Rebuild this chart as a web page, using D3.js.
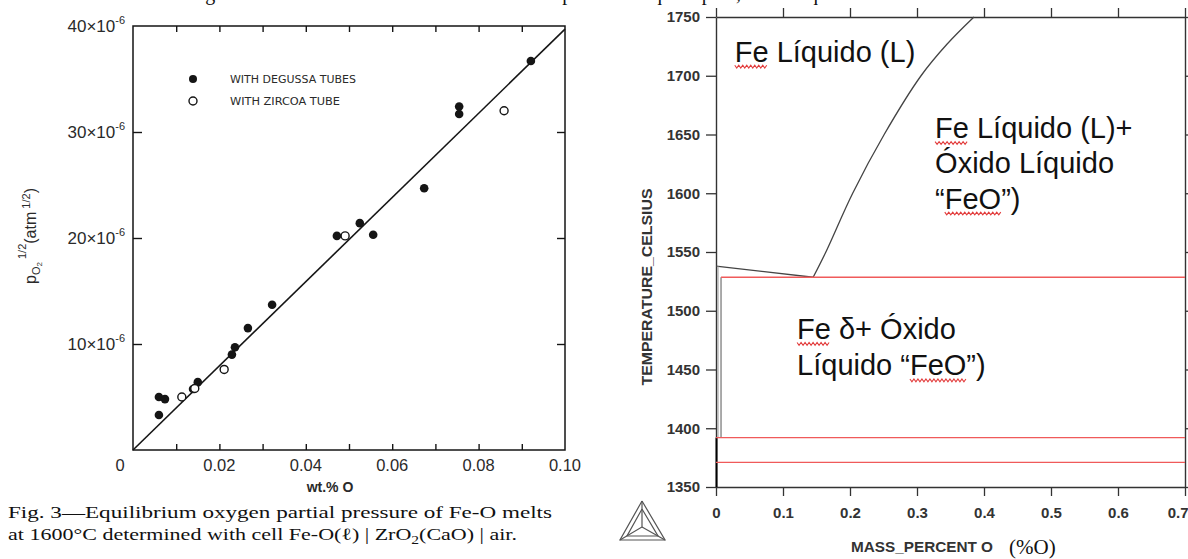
<!DOCTYPE html>
<html>
<head>
<meta charset="utf-8">
<script src="https://cdn.jsdelivr.net/npm/d3@7"></script>
<style>
  body { margin: 0; background: #fff; }
  svg { display: block; }
</style>
</head>
<body>
<script>
// left figure: pO2^1/2 (x1e-6 atm^1/2) vs wt.% O at 1600C
var degussaX = [0.0060, 0.0060, 0.0074, 0.0139, 0.0150, 0.0229, 0.0236, 0.0266, 0.0322, 0.0472, 0.0525, 0.0556, 0.0674, 0.0755, 0.0755, 0.0921];
var degussaY = [3.3, 5.0, 4.8, 5.75, 6.4, 9.0, 9.7, 11.5, 13.7, 20.2, 21.4, 20.3, 24.7, 32.4, 31.7, 36.7];
var zircoaX = [0.0113, 0.0143, 0.0211, 0.0491, 0.0859];
var zircoaY = [5.0, 5.8, 7.6, 20.2, 32.0];
var fitX = [0, 0.10];
var fitY = [0, 39.7];
var wtTicks = [0, 0.02, 0.04, 0.06, 0.08, 0.10];
var wtMinor = [0.01, 0.02, 0.03, 0.04, 0.05, 0.06, 0.07, 0.08, 0.09];
var poTicks = [10, 20, 30, 40];

// right figure: Fe-O phase diagram (Thermo-Calc)
var tempTicks = [1350, 1400, 1450, 1500, 1550, 1600, 1650, 1700, 1750];
var massTicks = [0, 0.1, 0.2, 0.3, 0.4, 0.5, 0.6, 0.7];
var liquidusX = [0.145, 0.164, 0.204, 0.251, 0.306, 0.345, 0.385];
var liquidusT = [1528.5, 1550, 1600, 1650, 1700, 1727, 1750];
var monotecticX = [0, 0.145];
var monotecticT = [1538, 1528.5];
var isotherms = [1528.5, 1392, 1371];
var phaseLabels = [
  { text: 'Fe Líquido (L)', x: 0.028, t: 1712, marks: [[0, 2]] },
  { text: 'Fe Líquido (L)+', x: 0.327, t: 1647, marks: [[0, 2]] },
  { text: 'Óxido Líquido', x: 0.327, t: 1617, marks: [] },
  { text: '“FeO”)', x: 0.327, t: 1587, marks: [[1, 3]] },
  { text: 'Fe δ+ Óxido', x: 0.121, t: 1476, marks: [[0, 2]] },
  { text: 'Líquido “FeO”)', x: 0.121, t: 1445, marks: [[9, 3]] }
];

var W = 1188, H = 559;
var svg = d3.select('body').append('svg').attr('width', W).attr('height', H);
svg.append('rect').attr('width', W).attr('height', H).attr('fill', '#fff');

// sentence above the figures, cut off by the page edge
svg.append('text')
  .attr('x', 25).attr('y', 0)
  .attr('font-family', 'Liberation Serif, serif').attr('font-size', 20)
  .attr('textLength', 815).attr('lengthAdjust', 'spacing')
  .attr('fill', '#111')
  .text('com base nos dados da figura ao lado estendida até 1600°C e determinar a partir dela o que se pede, sabendo que:');

/* ---------------- left: scanned Fig. 3 ---------------- */
var ink = '#151515';
var grey = '#2a2a2a';
var xL = d3.scaleLinear().domain([0, 0.10]).range([133, 565]);
var yL = d3.scaleLinear().domain([0, 40]).range([450, 26]);
var gL = svg.append('g');

gL.append('rect')
  .attr('x', xL(0)).attr('y', yL(40))
  .attr('width', xL(0.10) - xL(0)).attr('height', yL(0) - yL(40))
  .attr('fill', 'none').attr('stroke', ink).attr('stroke-width', 1.5);

// inward ticks on all four sides
gL.append('g').attr('transform', 'translate(0,' + yL(0) + ')')
  .call(d3.axisBottom(xL).tickValues(wtMinor).tickSize(-6).tickFormat(''));
gL.append('g').attr('transform', 'translate(0,' + yL(40) + ')')
  .call(d3.axisTop(xL).tickValues(wtMinor).tickSize(-6).tickFormat(''));
gL.append('g').attr('transform', 'translate(' + xL(0) + ',0)')
  .call(d3.axisLeft(yL).tickValues([10, 20, 30]).tickSize(-9).tickFormat(''));
gL.append('g').attr('transform', 'translate(' + xL(0.10) + ',0)')
  .call(d3.axisRight(yL).tickValues([10, 20, 30]).tickSize(-8).tickFormat(''));
gL.selectAll('.domain').remove();
gL.selectAll('.tick line').attr('stroke', ink).attr('stroke-width', 1.4);

gL.selectAll('text.xl').data(wtTicks).join('text')
  .attr('class', 'xl')
  .attr('x', function(d) { return d === 0 ? xL(d) - 13 : xL(d); })
  .attr('y', 471)
  .attr('text-anchor', 'middle')
  .attr('font-family', 'Liberation Sans, Arial, sans-serif').attr('font-size', 16.5)
  .attr('fill', grey)
  .text(function(d) { return d === 0 ? '0' : d.toFixed(2); });

var yl = gL.selectAll('text.yl').data(poTicks).join('text')
  .attr('class', 'yl')
  .attr('x', 125).attr('y', function(d) { return yL(d) + 6; })
  .attr('text-anchor', 'end')
  .attr('font-family', 'Liberation Sans, Arial, sans-serif').attr('font-size', 17)
  .attr('fill', grey);
yl.append('tspan').text(function(d) { return d + '×10'; });
yl.append('tspan').attr('dy', -8).attr('font-size', 11).text('-6');

gL.append('text')
  .attr('x', 330).attr('y', 492)
  .attr('text-anchor', 'middle')
  .attr('font-family', 'Liberation Sans, Arial, sans-serif').attr('font-size', 14)
  .attr('font-weight', 'bold')
  .attr('fill', grey)
  .text('wt.% O');

var ylab = gL.append('text')
  .attr('transform', 'translate(36,236) rotate(-90)')
  .attr('text-anchor', 'middle')
  .attr('font-family', 'Liberation Sans, Arial, sans-serif').attr('font-size', 16)
  .attr('fill', grey);
ylab.append('tspan').text('p');
ylab.append('tspan').attr('dy', 4).attr('font-size', 11).text('O');
ylab.append('tspan').attr('dy', 2).attr('font-size', 8).text('2');
ylab.append('tspan').attr('dy', -16).attr('font-size', 11).text(' 1/2');
ylab.append('tspan').attr('dy', 10).text('(atm');
ylab.append('tspan').attr('dy', -6).attr('font-size', 11).text(' 1/2');
ylab.append('tspan').attr('dy', 6).text(')');

// legend
gL.append('circle').attr('cx', 193).attr('cy', 79).attr('r', 4).attr('fill', ink);
gL.append('circle').attr('cx', 193).attr('cy', 101).attr('r', 4)
  .attr('fill', '#fff').attr('stroke', ink).attr('stroke-width', 1.4);
gL.append('text').attr('x', 230).attr('y', 83)
  .attr('font-family', 'Liberation Sans Narrow, DejaVu Sans Condensed, sans-serif').attr('font-size', 10.5)
  .attr('textLength', 126).attr('lengthAdjust', 'spacingAndGlyphs')
  .attr('fill', grey).text('WITH DEGUSSA TUBES');
gL.append('text').attr('x', 230).attr('y', 105)
  .attr('font-family', 'Liberation Sans Narrow, DejaVu Sans Condensed, sans-serif').attr('font-size', 10.5)
  .attr('textLength', 110).attr('lengthAdjust', 'spacingAndGlyphs')
  .attr('fill', grey).text('WITH ZIRCOA TUBE');

// fitted line
gL.append('path')
  .datum(d3.zip(fitX, fitY))
  .attr('d', d3.line().x(function(d) { return xL(d[0]); }).y(function(d) { return yL(d[1]); }))
  .attr('fill', 'none').attr('stroke', ink).attr('stroke-width', 1.6);

gL.selectAll('circle.deg').data(d3.zip(degussaX, degussaY)).join('circle')
  .attr('class', 'deg')
  .attr('cx', function(d) { return xL(d[0]); })
  .attr('cy', function(d) { return yL(d[1]); })
  .attr('r', 4.3).attr('fill', ink);
gL.selectAll('circle.zir').data(d3.zip(zircoaX, zircoaY)).join('circle')
  .attr('class', 'zir')
  .attr('cx', function(d) { return xL(d[0]); })
  .attr('cy', function(d) { return yL(d[1]); })
  .attr('r', 4).attr('fill', '#fff').attr('stroke', ink).attr('stroke-width', 1.4);

// caption
var cap = svg.append('g')
  .attr('font-family', 'Liberation Serif, Times New Roman, serif').attr('font-size', 17)
  .attr('fill', '#111');
cap.append('text').attr('x', 8).attr('y', 518)
  .attr('textLength', 544).attr('lengthAdjust', 'spacingAndGlyphs')
  .text('Fig. 3—Equilibrium oxygen partial pressure of Fe-O melts');
var cap2 = cap.append('text').attr('x', 8).attr('y', 540)
  .attr('textLength', 509).attr('lengthAdjust', 'spacingAndGlyphs');
cap2.append('tspan').text('at 1600°C determined with cell Fe-O(ℓ) | ZrO');
cap2.append('tspan').attr('dy', 4).attr('font-size', 12).text('2');
cap2.append('tspan').attr('dy', -4).text('(CaO) | air.');

/* ---------------- right: Fe-O phase diagram ---------------- */
var axisCol = '#333';
var xR = d3.scaleLinear().domain([0, 0.7]).range([716, 1185]);
var yR = d3.scaleLinear().domain([1350, 1750]).range([487, 17]);
var gR = svg.append('g');

var xAxisR = gR.append('g').attr('class', 'ax').attr('transform', 'translate(0,' + yR(1350) + ')')
  .call(d3.axisBottom(xR).tickValues(massTicks).tickSize(9).tickSizeOuter(0).tickPadding(11)
    .tickFormat(function(d) { return d === 0 ? '0' : d3.format('.1f')(d); }));
gR.append('g').attr('class', 'ax').attr('transform', 'translate(0,' + yR(1750) + ')')
  .call(d3.axisTop(xR).tickValues(massTicks).tickSize(9).tickSizeOuter(0).tickFormat(''));
gR.append('g').attr('class', 'ax').attr('transform', 'translate(' + xR(0) + ',0)')
  .call(d3.axisLeft(yR).tickValues(tempTicks).tickSize(10).tickSizeOuter(0).tickPadding(6)
    .tickFormat(d3.format('d')));
gR.append('g').attr('class', 'ax').attr('transform', 'translate(' + xR(0.7) + ',0)')
  .call(d3.axisRight(yR).tickValues(tempTicks).tickSize(9).tickSizeOuter(0).tickFormat(''));
gR.selectAll('.ax .domain').attr('stroke', axisCol).attr('stroke-width', 1.4);
gR.selectAll('.ax .tick line').attr('stroke', axisCol).attr('stroke-width', 1.3);
gR.selectAll('.ax .tick text')
  .attr('font-family', 'Liberation Sans, Arial, sans-serif').attr('font-size', 15)
  .attr('font-weight', 'bold').attr('fill', axisCol);
// last mass label sits against the page edge
xAxisR.selectAll('.tick text').filter(function(d) { return d === 0.7; })
  .attr('text-anchor', 'end').attr('x', 3);

gR.append('text')
  .attr('transform', 'translate(652,287) rotate(-90)')
  .attr('text-anchor', 'middle')
  .attr('font-family', 'Liberation Sans, Arial, sans-serif').attr('font-size', 15).attr('font-weight', 'bold')
  .attr('textLength', 197).attr('lengthAdjust', 'spacingAndGlyphs')
  .attr('fill', axisCol).text('TEMPERATURE_CELSIUS');
gR.append('text')
  .attr('x', 851).attr('y', 552)
  .attr('font-family', 'Liberation Sans, Arial, sans-serif').attr('font-size', 15).attr('font-weight', 'bold')
  .attr('textLength', 142).attr('lengthAdjust', 'spacingAndGlyphs')
  .attr('fill', axisCol).text('MASS_PERCENT O');
gR.append('text')
  .attr('x', 1009).attr('y', 554)
  .attr('font-family', 'Liberation Serif, Times New Roman, serif').attr('font-size', 21)
  .attr('fill', '#111').text('(%O)');

// thermo-calc logo
var logo = gR.append('g').attr('fill', 'none').attr('stroke', '#555').attr('stroke-width', 1.2);
var apex = [642, 501], bl = [620, 540], br = [665, 540], ctr = [642, 527];
logo.append('path').attr('d', d3.line()([apex, bl, br, apex]));
logo.append('path').attr('d', d3.line()([[642, 509], [627, 536], [658, 536], [642, 509]]));
logo.append('path').attr('d', d3.line()([apex, ctr, bl]));
logo.append('path').attr('d', d3.line()([ctr, br]));

// phase boundaries
var lineR = d3.line().x(function(d) { return xR(d[0]); }).y(function(d) { return yR(d[1]); });
gR.append('path').datum(d3.zip(liquidusX, liquidusT))
  .attr('d', d3.line().curve(d3.curveCatmullRom)
    .x(function(d) { return xR(d[0]); }).y(function(d) { return yR(d[1]); }))
  .attr('fill', 'none').attr('stroke', '#444').attr('stroke-width', 1.3);
gR.append('path').datum(d3.zip(monotecticX, monotecticT)).attr('d', lineR)
  .attr('fill', 'none').attr('stroke', '#444').attr('stroke-width', 1.3);
gR.append('path').datum([[0.003, 1538], [0.003, 1392]]).attr('d', lineR)
  .attr('fill', 'none').attr('stroke', '#999').attr('stroke-width', 1);
gR.append('path').datum([[0.0075, 1528.5], [0.0075, 1392]]).attr('d', lineR)
  .attr('fill', 'none').attr('stroke', '#666').attr('stroke-width', 1.1);
gR.append('path').datum([[0.0008, 1392], [0.0008, 1350]]).attr('d', lineR)
  .attr('fill', 'none').attr('stroke', '#000').attr('stroke-width', 2);

gR.selectAll('path.iso').data(isotherms).join('path')
  .attr('class', 'iso')
  .attr('d', function(t, i) { return lineR([[i === 0 ? 0.0075 : 0, t], [0.7, t]]); })
  .attr('fill', 'none').attr('stroke', '#f05a5a').attr('stroke-width', 1.4);

// phase field labels with spell-check squiggles
function squiggle(x0, x1, y) {
  var pts = [];
  for (var x = x0, i = 0; x <= x1; x += 2, i++) pts.push([x, y + (i % 2 ? 1.4 : -1.4)]);
  return d3.line()(pts);
}
phaseLabels.forEach(function(lab) {
  var x = xR(lab.x), y = yR(lab.t);
  var t = gR.append('text')
    .attr('x', x).attr('y', y)
    .attr('font-family', 'Liberation Sans, Arial, sans-serif').attr('font-size', 29)
    .attr('fill', '#111').text(lab.text);
  var node = t.node();
  lab.marks.forEach(function(m) {
    var a = m[0] ? node.getSubStringLength(0, m[0]) : 0;
    var b = node.getSubStringLength(0, m[0] + m[1]);
    gR.append('path').attr('d', squiggle(x + a, x + b, y + 5))
      .attr('fill', 'none').attr('stroke', '#e23b3b').attr('stroke-width', 1.1);
  });
});
</script>
</body>
</html>
